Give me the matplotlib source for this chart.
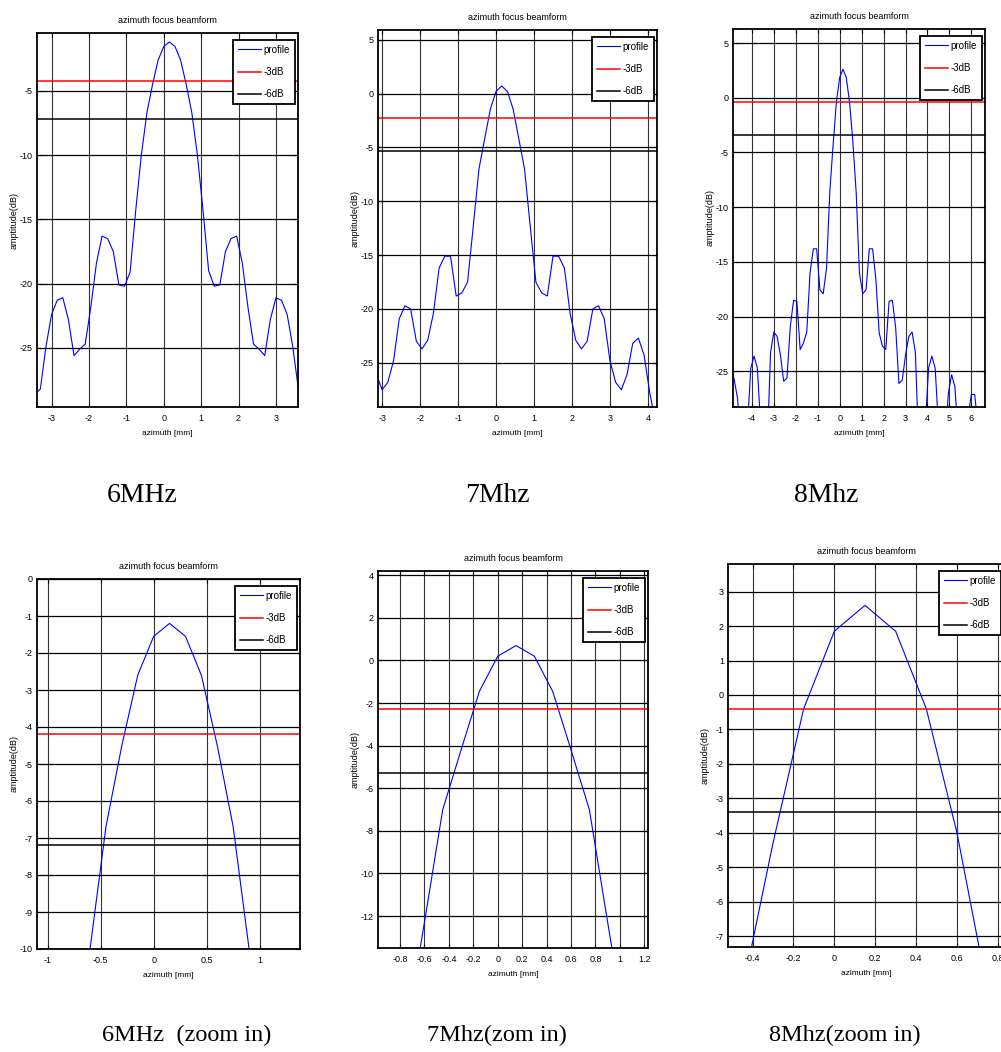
import numpy as np
import matplotlib
matplotlib.use('Agg')
import matplotlib.pyplot as plt
from matplotlib import font_manager
from matplotlib.ticker import FuncFormatter

# sample spacing of the beam profile (mm), profiles are centred on 0.15 mm
step = 0.15

# 6 MHz profile, x from -3.45 to 3.75 mm
x6 = np.round(np.arange(-3.45, 3.76, step), 2)
amp6 = [-28.6, -28.2, -24.9, -22.4, -21.3, -21.1, -22.8, -25.6, -25.1, -24.7,
        -21.8, -18.4, -16.3, -16.5, -17.5, -20.1, -20.2, -19.1, -14.3, -10.0,
        -6.7, -4.5, -2.6, -1.55, -1.2, -1.55, -2.6, -4.5, -6.7, -10.0,
        -14.3, -19.0, -20.2, -20.1, -17.5, -16.5, -16.3, -18.4, -21.8, -24.7,
        -25.1, -25.6, -22.8, -21.1, -21.3, -22.4, -24.9, -28.2, -28.6]

# 7 MHz profile, x from -3.30 to 4.35 mm
x7 = np.round(np.arange(-3.30, 4.36, step), 2)
amp7 = [-23.2, -26.1, -27.5, -26.8, -24.8, -20.9, -19.7, -20.0, -23.0, -23.7,
        -22.9, -20.4, -16.2, -15.1, -15.1, -18.8, -18.5, -17.5, -12.3, -7.0,
        -4.2, -1.45, 0.2, 0.7, 0.2, -1.45, -4.2, -7.0, -12.3, -17.5,
        -18.5, -18.8, -15.1, -15.1, -16.2, -20.4, -22.9, -23.7, -23.0, -20.0,
        -19.7, -20.9, -24.8, -26.8, -27.5, -26.1, -23.2, -22.7, -24.3, -27.8,
        -30.5, -31.0]

# 8 MHz profile, x from -4.95 to 6.30 mm
x8 = np.round(np.arange(-4.95, 6.31, step), 2)
amp8 = [-24.5, -25.8, -27.5, -32.0, -33.0, -30.0, -24.7, -23.6, -24.7, -30.0,
        -32.0, -32.0, -23.3, -21.4, -21.8, -23.5, -25.9, -25.6, -20.9, -18.5,
        -18.6, -23.0, -22.4, -21.4, -16.0, -13.8, -13.8, -17.55, -17.9, -15.6,
        -8.6, -4.3, -0.4, 1.85, 2.6, 1.85, -0.4, -4.0, -8.6, -16.0,
        -17.9, -17.55, -13.8, -13.8, -16.6, -21.5, -22.7, -23.0, -18.6, -18.5,
        -21.0, -26.1, -25.8, -23.5, -21.8, -21.4, -23.3, -32.0, -32.0, -30.0,
        -24.7, -23.6, -24.7, -30.0, -33.0, -32.0, -27.0, -25.3, -26.4, -31.0,
        -34.0, -33.0, -29.0, -27.1, -27.1, -30.0]

# -3 dB and -6 dB levels (peak - 3, peak - 6)
lvl3 = {'6': -4.2, '7': -2.3, '8': -0.4}
lvl6 = {'6': -7.2, '7': -5.3, '8': -3.4}

captions = ['6MHz', '7Mhz', '8Mhz',
            '6MHz  (zoom in)', '7Mhz(zom in)', '8Mhz(zoom in)']

names = {f.name for f in font_manager.fontManager.ttflist}
narrow = 'Liberation Sans Narrow' if 'Liberation Sans Narrow' in names else 'Liberation Sans'

W, H = 1001, 1052
fig = plt.figure(figsize=(W / 100, H / 100), dpi=100)

# (data key, x, y, pixel box L,T,R,B, xlim, ylim, xticks, yticks)
panels = [
    ('6', x6, amp6, (37, 33, 298, 407), (-3.39, 3.59), (-29.6, -0.5),
     [-3, -2, -1, 0, 1, 2, 3], [-25, -20, -15, -10, -5]),
    ('7', x7, amp7, (378, 30, 657, 407), (-3.11, 4.24), (-29.1, 5.9),
     [-3, -2, -1, 0, 1, 2, 3, 4], [-25, -20, -15, -10, -5, 0, 5]),
    ('8', x8, amp8, (733, 29, 985, 407), (-4.86, 6.62), (-28.25, 6.28),
     [-4, -3, -2, -1, 0, 1, 2, 3, 4, 5, 6], [-25, -20, -15, -10, -5, 0, 5]),
    ('6', x6, amp6, (37, 579, 300, 949), (-1.1, 1.38), (-10, 0),
     [-1, -0.5, 0, 0.5, 1], list(range(-10, 1))),
    ('7', x7, amp7, (378, 571, 648, 948), (-0.98, 1.23), (-13.5, 4.2),
     [-0.8, -0.6, -0.4, -0.2, 0, 0.2, 0.4, 0.6, 0.8, 1, 1.2], list(range(-12, 5, 2))),
    ('8', x8, amp8, (728, 564, 1004, 947), (-0.52, 0.83), (-7.31, 3.8),
     [-0.4, -0.2, 0, 0.2, 0.4, 0.6, 0.8], list(range(-7, 4))),
]

fmt = FuncFormatter(lambda v, p: '{:g}'.format(round(v, 2)))

for key, xs, ys, box, xl, yl, xt, yt in panels:
    L, T, R, B = box
    ax = fig.add_axes([L / W, 1 - B / H, (R - L) / W, (B - T) / H])
    ax.plot(xs, ys, color='#0000ff', lw=0.8, label='profile')
    ax.axhline(lvl3[key], color='#ff0000', lw=1.1, label='-3dB')
    ax.axhline(lvl6[key], color='black', lw=1.1, label='-6dB')
    ax.set_xlim(xl)
    ax.set_ylim(yl)
    ax.set_xticks(xt)
    ax.set_yticks(yt)
    ax.xaxis.set_major_formatter(fmt)
    ax.yaxis.set_major_formatter(fmt)
    ax.grid(True, axis='y', color='black', lw=0.9)
    ax.grid(True, axis='x', color='#333333', lw=0.8)
    ax.set_axisbelow(True)
    ax.tick_params(direction='in', length=3, width=0.8, top=True, right=True,
                   labelsize=6.5)
    ax.tick_params(axis='x', pad=5)
    ax.tick_params(axis='y', pad=3)
    for lab in ax.get_xticklabels() + ax.get_yticklabels():
        lab.set_family(narrow)
    for s in ax.spines.values():
        s.set_linewidth(1.3)
    ax.set_title('azimuth focus beamform', fontsize=6.5, family=narrow, pad=7)
    ax.set_xlabel('azimuth [mm]', fontsize=6, family=narrow, labelpad=5)
    ax.set_ylabel('amptitude(dB)', fontsize=6.5, family='Liberation Sans')
    ax.yaxis.set_label_coords(-18 / (R - L), 0.5)
    leg = ax.legend(loc='upper right', bbox_to_anchor=(1 - 3 / (R - L), 1 - 7 / (B - T)),
                    borderaxespad=0, fancybox=False, framealpha=1,
                    prop={'family': narrow, 'size': 7}, handlelength=2.4,
                    handletextpad=0.3, labelspacing=1.25, borderpad=0.5)
    leg.get_frame().set_edgecolor('black')
    leg.get_frame().set_linewidth(1.3)

# captions under each chart
cap_pos = [(142, 496), (497, 496), (826, 496), (187, 1035), (497, 1035), (845, 1035)]
cap_size = [20, 20, 20, 17.5, 17.5, 17.5]
for (cx, cy), txt, fs in zip(cap_pos, captions, cap_size):
    fig.text(cx / W, 1 - cy / H, txt, fontsize=fs, family='Liberation Serif',
             ha='center', va='center')

fig.savefig('out.png', dpi=100)
